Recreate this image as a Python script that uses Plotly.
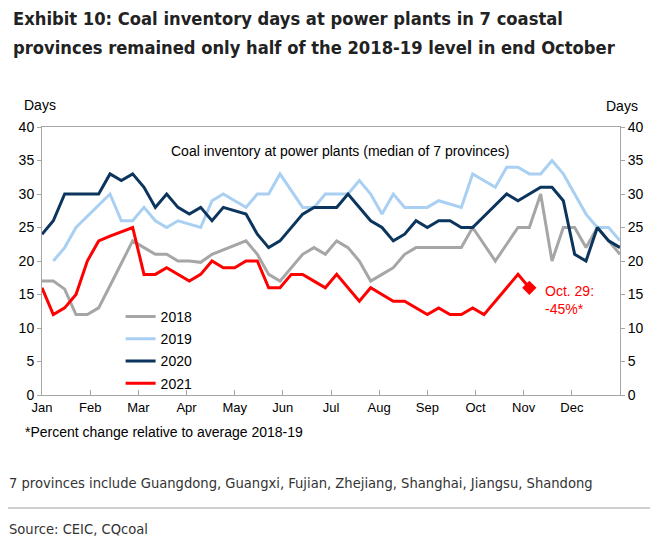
import plotly.graph_objects as go

months = ["Jan", "Feb", "Mar", "Apr", "May", "Jun", "Jul", "Aug", "Sep", "Oct", "Nov", "Dec"]
weeks = list(range(52))

y2018 = [17, 17, 15.8, 12, 12, 13, 16.3, 19.7, 23, 22, 21, 21, 20, 20, 19.8, 21, 21.7, 22.4, 23, 21,
         18, 17, 19, 21, 22, 21, 23, 22, 20, 17, 18, 19, 21, 22, 22, 22, 22, 22, 25, 22.5,
         20, 22.5, 25, 25, 30, 20, 25, 25, 22, 25, 23, 21]
y2019 = [None, 20, 22, 25, 26.7, 28.3, 30, 26, 26, 28, 26, 25, 26, 25.5, 25, 29, 30, 29, 28, 30,
         30, 33, 30.5, 28, 28, 30, 30, 30, 32, 30, 27, 30, 28, 28, 28, 29, 28.5, 28, 33, 32,
         31, 34, 34, 33, 33, 35, 33, 30, 27, 25, 25, 23]
y2020 = [24, 26, 30, 30, 30, 30, 33, 32, 33, 31, 28, 30, 28, 27, 28, 26, 28, 27.5, 27, 24,
         22, 23, 25, 27, 28, 28, 28, 30, 28, 26, 25, 23, 24, 26, 25, 26, 26, 25, 25, 26.7,
         28.3, 30, 29, 30, 31, 31, 29, 21, 20, 25, 23, 22]
y2021 = [16, 12, 13, 15, 20, 23, 23.7, 24.3, 25, 18, 18, 19, 18, 17, 18, 20, 19, 19, 20, 20,
         16, 16, 18, 18, 17, 16, 18, 16, 14, 16, 15, 14, 14, 13, 12, 13, 12, 12, 13, 12,
         14, 16, 18, 16]

series = [
    ("2018", y2018, "#A6A6A6"),
    ("2019", y2019, "#A9D0F2"),
    ("2020", y2020, "#0C355E"),
    ("2021", y2021, "#FF0000"),
]

AX = "#A6A6A6"
FONT = "Liberation Sans, Arial, sans-serif"
NARROW = "DejaVu Sans Condensed, Liberation Sans, sans-serif"

fig = go.Figure()
for name, ys, col in series:
    fig.add_trace(go.Scatter(x=weeks[:len(ys)], y=ys, mode="lines", name=name,
                             line=dict(color=col, width=3), legendgroup=name,
                             connectgaps=False))

# marker on latest 2021 observation
last = len(y2021) - 1
fig.add_trace(go.Scatter(x=[weeks[last]], y=[y2021[last]], mode="markers", showlegend=False,
                         marker=dict(symbol="diamond", size=11, color="#FF0000")))
# invisible trace on right axis
fig.add_trace(go.Scatter(x=[weeks[0]], y=[None], yaxis="y2", showlegend=False, hoverinfo="skip"))

tickvals = [i * 51 / 12 for i in range(12)]

fig.update_layout(
    width=666, height=544,
    margin=dict(l=42, r=46, t=127, b=149),
    paper_bgcolor="white", plot_bgcolor="white",
    font=dict(family=FONT, size=14, color="#000000"),
    xaxis=dict(range=[0, 51], tickvals=tickvals, ticktext=months, ticks="inside", ticklen=5,
               tickcolor=AX, showline=True, linecolor=AX, linewidth=1, mirror=True,
               showgrid=False, zeroline=False, tickfont=dict(size=13)),
    yaxis=dict(range=[0, 40], dtick=5, ticks="outside", ticklen=4, tickcolor=AX,
               showline=True, linecolor=AX, linewidth=1, showgrid=False, zeroline=False,
               tickfont=dict(size=14)),
    yaxis2=dict(range=[0, 40], dtick=5, ticks="outside", ticklen=4, tickcolor=AX,
                showline=True, linecolor=AX, linewidth=1, showgrid=False, zeroline=False,
                overlaying="y", side="right", tickfont=dict(size=14)),
    legend=dict(x=0.136, y=(395 - 301) / 268, xanchor="left", yanchor="top",
                bgcolor="rgba(0,0,0,0)", font=dict(size=14), tracegroupgap=1,
                itemwidth=30),
    showlegend=True,
)

px = lambda v: (v - 42) / 578
py = lambda v: (395 - v) / 268

def ann(text, x, y, size=14, color="#000000", family=FONT, xanchor="left", align="left",
        yanchor="middle"):
    fig.add_annotation(text=text, x=px(x), y=py(y), xref="paper", yref="paper", showarrow=False,
                       xanchor=xanchor, yanchor=yanchor, align=align,
                       font=dict(size=size, color=color, family=family))

ann("<b>Exhibit 10: Coal inventory days at power plants in 7 coastal</b>",
    11, 18, size=18.2, color="#222222", family=NARROW)
ann("<b>provinces remained only half of the 2018-19 level in end October</b>",
    11, 47, size=18.2, color="#222222", family=NARROW)
ann("Days", 40, 105, xanchor="center")
ann("Days", 622, 106, xanchor="center")
ann("Coal inventory at power plants (median of 7 provinces)", 340, 151, size=14, xanchor="center")
ann("Oct. 29:<br>-45%*", 543, 300, size=14, color="#FF0000")
ann("*Percent change relative to average 2018-19", 23, 432, size=14)
ann("7 provinces include Guangdong, Guangxi, Fujian, Zhejiang, Shanghai, Jiangsu, Shandong",
    7, 482, size=14.6, color="#333333", family=NARROW)
ann("Source: CEIC, CQcoal", 7, 528, size=14.6, color="#333333", family=NARROW)

fig.add_shape(type="line", xref="paper", yref="paper", x0=px(8), x1=px(650), y0=py(508), y1=py(508),
              line=dict(color="#BFBFBF", width=1.5))

fig.write_html("out.html", config={"displayModeBar": False},
               post_script="document.body.style.margin='0px';")
